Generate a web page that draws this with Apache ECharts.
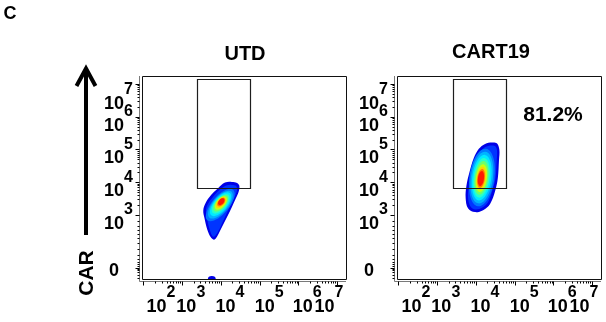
<!DOCTYPE html>
<html>
<head>
<meta charset="utf-8">
<script src="https://cdn.jsdelivr.net/npm/echarts@6/dist/echarts.min.js"></script>
<style>
  html, body { margin: 0; padding: 0; background: #fff; }
  #chart { width: 606px; height: 322px; }
</style>
</head>
<body>
<div id="chart"></div>
<script>
// all positions are in display units: decades (log10 intensity); y below 10^3 is the biex zone
const panelNames = ['UTD', 'CART19'];
const gatePercent = ['', '81.2%'];

const xRange = [1.97, 7.23];
const yRange = [1.05, 7.24];

const xMajorTicks = [2.0, 3, 4, 5, 6, 7];
const xLabelPos = [2.46, 3.23, 4.24, 5.25, 6.23];
const xLabelExp = ['2', '3', '4', '5', '6'];
const xTopLabelPos = [6.79];
const xTopLabelExp = ['7'];

const yMajorTicks = [1.40, 3, 4, 5, 6, 7];
const yLabelPos = [1.38, 3, 4, 5, 6];
const yLabelExp = ['0', '3', '4', '5', '6'];
const yTopLabelPos = [6.66];
const yTopLabelExp = ['7'];
const yLowMinorTicks = [2.82, 2.66, 2.54, 2.42, 2.30, 2.15, 1.96, 1.78, 1.66, 1.56, 1.50, 1.44, 1.36, 1.32, 1.26, 1.17, 1.08];

// gates [x0, y0, x1, y1]
const gateUTD = [3.40, 3.82, 4.76, 7.15];
const gateCART = [3.42, 3.82, 4.78, 7.15];

// outer contours of the populations
const utdEdge = [
  [4.11, 3.99], [4.29, 4.01], [4.42, 3.98], [4.48, 3.89], [4.46, 3.70], [4.37, 3.46],
  [4.24, 3.12], [4.11, 2.82], [3.98, 2.51], [3.90, 2.33], [3.83, 2.25], [3.74, 2.33],
  [3.65, 2.57], [3.58, 2.91], [3.55, 3.15], [3.61, 3.37], [3.75, 3.61], [3.93, 3.82]
];
const utdBlue = [
  [4.14, 3.90], [4.29, 3.92], [4.39, 3.89], [4.42, 3.79], [4.38, 3.61], [4.29, 3.40],
  [4.17, 3.09], [4.05, 2.79], [3.94, 2.51], [3.86, 2.37], [3.80, 2.34], [3.72, 2.54],
  [3.65, 2.88], [3.62, 3.15], [3.67, 3.34], [3.80, 3.55], [3.95, 3.75]
];
const cartEdge = [
  [4.24, 5.17], [4.42, 5.21], [4.55, 5.18], [4.61, 4.98], [4.60, 4.68], [4.57, 4.13],
  [4.50, 3.73], [4.37, 3.34], [4.19, 3.15], [3.98, 3.09], [3.80, 3.21], [3.74, 3.52],
  [3.76, 3.89], [3.84, 4.31], [3.95, 4.74], [4.08, 5.02]
];
const cartBlue = [
  [4.26, 5.08], [4.42, 5.12], [4.51, 5.09], [4.55, 4.95], [4.54, 4.65], [4.51, 4.13],
  [4.43, 3.76], [4.32, 3.40], [4.17, 3.23], [3.99, 3.17], [3.86, 3.27], [3.80, 3.55],
  [3.83, 3.89], [3.90, 4.30], [4.01, 4.68], [4.14, 4.95]
];

// density cores, outer to inner: [cx, cy, semi-major, semi-minor, tilt deg]
const utdCore = [
  [3.988, 3.305, 0.559, 0.240, 50],
  [3.991, 3.318, 0.476, 0.212, 50],
  [3.996, 3.330, 0.406, 0.186, 50],
  [3.999, 3.342, 0.336, 0.160, 50],
  [4.001, 3.354, 0.280, 0.138, 50],
  [4.004, 3.366, 0.224, 0.117, 50],
  [4.006, 3.382, 0.182, 0.100, 50],
  [4.012, 3.394, 0.145, 0.084, 50],
  [4.014, 3.406, 0.112, 0.070, 50]
];
const cartCore = [
  [4.161, 4.145, 0.811, 0.350, 82],
  [4.159, 4.142, 0.727, 0.308, 82],
  [4.156, 4.139, 0.643, 0.266, 82],
  [4.151, 4.136, 0.559, 0.224, 82],
  [4.148, 4.133, 0.476, 0.190, 82],
  [4.146, 4.127, 0.392, 0.154, 82],
  [4.141, 4.124, 0.322, 0.126, 82],
  [4.138, 4.118, 0.266, 0.106, 82],
  [4.135, 4.115, 0.210, 0.084, 82]
];
// small event cluster sitting on the bottom edge: [x, y, radius]
const utdDebris = [[3.77, 1.05, 0.11]];

const FONT = '"Liberation Sans", Arial, sans-serif';
const levelColors = ['#0000e6', '#0034ff', '#0078ff', '#00b4ff', '#00eaff', '#2affc8',
  '#6cff6c', '#c8ff10', '#ffd400', '#ff7a00', '#ff1a00'];

function decadeMinor(from, to) {
  const out = [];
  for (let d = from; d < to; d++) {
    for (let k = 2; k <= 9; k++) out.push(d + Math.log10(k));
  }
  return out;
}
const xMinorTicks = decadeMinor(2, 7).filter(v => v > xRange[0] && v < xRange[1]);
const yMinorTicks = decadeMinor(3, 7).concat(yLowMinorTicks);

// "10" with a raised exponent, built as two lines so it works for centre and right alignment
const labelRich = {
  sp: { width: 20, fontSize: 16, lineHeight: 12 },
  e: { width: 9, fontSize: 16, fontWeight: 'bold', fontFamily: FONT, color: '#000', lineHeight: 12 },
  b: { width: 20, fontSize: 18, fontWeight: 'bold', fontFamily: FONT, color: '#000', lineHeight: 16 },
  sq: { width: 9, fontSize: 18, lineHeight: 16 },
  z: { fontSize: 18, fontWeight: 'bold', fontFamily: FONT, color: '#000', lineHeight: 18, padding: [0, 14, 0, 0] }
};
function powLabel(exp) {
  return exp === '0' ? '{z|0}' : '{sp| }{e|' + exp + '}\n{b|10}{sq| }';
}

function pick(list, texts, v) {
  for (let i = 0; i < list.length; i++) {
    if (Math.abs(list[i] - v) < 1e-6) return texts[i];
  }
  return '';
}

// plot boxes; each grid is widened by a few pixels to the left and below
// so the axis line and ticks are drawn inside the coordinate area
const panelBoxes = [
  { left: 142, top: 76, width: 204, height: 203 },
  { left: 397, top: 76, width: 204, height: 203 }
];
const PAD = 8;
const xAxisMin = xRange[0] - PAD * (xRange[1] - xRange[0]) / panelBoxes[0].width;
const yAxisMin = yRange[0] - PAD * (yRange[1] - yRange[0]) / panelBoxes[0].height;
const grids = panelBoxes.map(b => ({
  left: b.left - PAD, top: b.top, width: b.width + PAD, height: b.height + PAD,
  show: false, outerBoundsMode: 'none'
}));

function labelAxis(dim, gi, pos, texts) {
  const isX = dim === 'x';
  return {
    type: 'value', gridIndex: gi, position: isX ? 'bottom' : 'left',
    min: isX ? xAxisMin : yAxisMin, max: isX ? xRange[1] : yRange[1],
    axisLine: { show: false },
    axisTick: { show: false },
    axisLabel: {
      show: true, customValues: pos, margin: isX ? 0 : 1, hideOverlap: false,
      padding: isX ? 0 : [6, 0, 0, 0],
      formatter: v => powLabel(pick(pos, texts, v)),
      rich: labelRich
    },
    splitLine: { show: false }
  };
}

const xAxes = [];
const yAxes = [];
grids.forEach((g, gi) => {
  xAxes.push(labelAxis('x', gi, xLabelPos, xLabelExp));
  xAxes.push(labelAxis('x', gi, xTopLabelPos, xTopLabelExp));
  yAxes.push(labelAxis('y', gi, yLabelPos, yLabelExp));
  yAxes.push(labelAxis('y', gi, yTopLabelPos, yTopLabelExp));
});

function contourSeries(points, color, gi) {
  return {
    type: 'custom', xAxisIndex: gi * 2, yAxisIndex: gi * 2, z: 2, silent: true,
    data: points,
    renderItem: (params, api) => {
      if (params.dataIndex !== 0) return null;
      return {
        type: 'polygon',
        shape: { points: points.map(p => api.coord(p)), smooth: 0.35 },
        style: { fill: color }
      };
    }
  };
}

function ellipseSeries(rows, colorOffset, gi) {
  return {
    type: 'custom', xAxisIndex: gi * 2, yAxisIndex: gi * 2, z: 3, silent: true,
    data: rows,
    renderItem: (params, api) => {
      const c = api.coord([api.value(0), api.value(1)]);
      const unit = api.size([1, 1]);
      const s = (unit[0] + unit[1]) / 2;
      return {
        type: 'ellipse',
        x: c[0], y: c[1],
        rotation: api.value(4) * Math.PI / 180,
        shape: { cx: 0, cy: 0, rx: api.value(2) * s, ry: api.value(3) * s },
        style: { fill: levelColors[params.dataIndex + colorOffset] }
      };
    }
  };
}

// half dot resting on the lower edge of the plot box
function debrisSeries(rows, gi) {
  return {
    type: 'custom', xAxisIndex: gi * 2, yAxisIndex: gi * 2, z: 3, silent: true,
    data: rows,
    renderItem: (params, api) => {
      const c = api.coord([api.value(0), api.value(1)]);
      const unit = api.size([1, 1]);
      const r = api.value(2) * (unit[0] + unit[1]) / 2;
      return {
        type: 'sector',
        x: c[0], y: c[1], scaleY: 0.75,
        shape: { cx: 0, cy: 0, r0: 0, r: r, startAngle: Math.PI, endAngle: Math.PI * 2 },
        style: { fill: levelColors[0] }
      };
    }
  };
}

function gateSeries(gate, gi) {
  return {
    type: 'custom', xAxisIndex: gi * 2, yAxisIndex: gi * 2, z: 5, silent: true,
    data: [gate],
    renderItem: (params, api) => {
      const p0 = api.coord([api.value(0), api.value(3)]);
      const p1 = api.coord([api.value(2), api.value(1)]);
      return {
        type: 'rect',
        shape: { x: Math.round(p0[0]) + 0.5, y: Math.round(p0[1]) + 0.5, width: Math.round(p1[0] - p0[0]), height: Math.round(p1[1] - p0[1]) },
        style: { fill: null, stroke: '#1e1e1e', lineWidth: 1.2 }
      };
    }
  };
}

// plot box, axis lines and tick marks, all placed through the panel's scales
function frameSeries(gi) {
  return {
    type: 'custom', xAxisIndex: gi * 2, yAxisIndex: gi * 2, z: 6, silent: true,
    data: [[xRange[0], yRange[0], xRange[1], yRange[1]]],
    renderItem: (params, api) => {
      const lo = api.coord([api.value(0), api.value(1)]);
      const hi = api.coord([api.value(2), api.value(3)]);
      const x0 = Math.round(lo[0]), y0 = Math.round(lo[1]);
      const x1 = Math.round(hi[0]), y1 = Math.round(hi[1]);
      const bottom = y0 + 2.5, left = x0 - 2.5;
      const black = { stroke: '#000', lineWidth: 1 };
      const kids = [
        { type: 'rect', shape: { x: x0 + 0.5, y: y1 + 0.5, width: x1 - x0, height: y0 - y1 }, style: { fill: null, stroke: '#111', lineWidth: 1 } },
        { type: 'polyline', shape: { points: [[left, y1], [left, bottom], [x1, bottom]] }, style: { fill: null, stroke: '#7a7a7a', lineWidth: 1 } }
      ];
      const xt = (v, len) => {
        const x = Math.round(api.coord([v, yRange[0]])[0]) + 0.5;
        kids.push({ type: 'line', shape: { x1: x, y1: bottom, x2: x, y2: bottom + len }, style: black });
      };
      const yt = (v, len) => {
        const y = Math.round(api.coord([xRange[0], v])[1]) + 0.5;
        kids.push({ type: 'line', shape: { x1: left, y1: y, x2: left - len, y2: y }, style: black });
      };
      xMajorTicks.forEach(v => xt(v, 4));
      xMinorTicks.forEach(v => xt(v, 2));
      yMajorTicks.forEach(v => yt(v, 4));
      yMinorTicks.forEach(v => yt(v, 2));
      return { type: 'group', children: kids };
    }
  };
}

const series = [
  contourSeries(utdEdge, levelColors[0], 0),
  contourSeries(utdBlue, levelColors[1], 0),
  ellipseSeries(utdCore, 2, 0),
  debrisSeries(utdDebris, 0),
  gateSeries(gateUTD, 0),
  frameSeries(0),
  contourSeries(cartEdge, levelColors[0], 1),
  contourSeries(cartBlue, levelColors[1], 1),
  ellipseSeries(cartCore, 2, 1),
  gateSeries(gateCART, 1),
  frameSeries(1)
];

function label(text, x, y, size, extra) {
  return Object.assign({
    type: 'text', x: x, y: y, silent: true,
    style: {
      text: text, fill: '#000', font: 'bold ' + size + 'px ' + FONT,
      align: 'center', verticalAlign: 'middle', textAlign: 'center', textVerticalAlign: 'middle'
    }
  }, extra || {});
}

const decorations = [
  label('C', 10, 14, 18),
  label(panelNames[0], 245, 54, 20),
  label(panelNames[1], 491, 52, 20),
  label(gatePercent[1], 553, 115, 21),
  label('CAR', 87, 273, 21, { rotation: Math.PI / 2 }),
  {
    type: 'line', silent: true,
    shape: { x1: 86, y1: 235, x2: 86, y2: 69 },
    style: { stroke: '#000', lineWidth: 4 }
  },
  {
    type: 'polyline', silent: true,
    shape: { points: [[76.5, 86], [86, 68.5], [95.5, 86]] },
    style: { stroke: '#000', lineWidth: 4, fill: null, lineJoin: 'miter' }
  }
];

const chart = echarts.init(document.getElementById('chart'), null, { renderer: 'canvas' });
chart.setOption({
  animation: false,
  backgroundColor: '#fff',
  grid: grids,
  xAxis: xAxes,
  yAxis: yAxes,
  series: series,
  graphic: { elements: decorations }
});
window.addEventListener('resize', () => chart.resize());
</script>
</body>
</html>
